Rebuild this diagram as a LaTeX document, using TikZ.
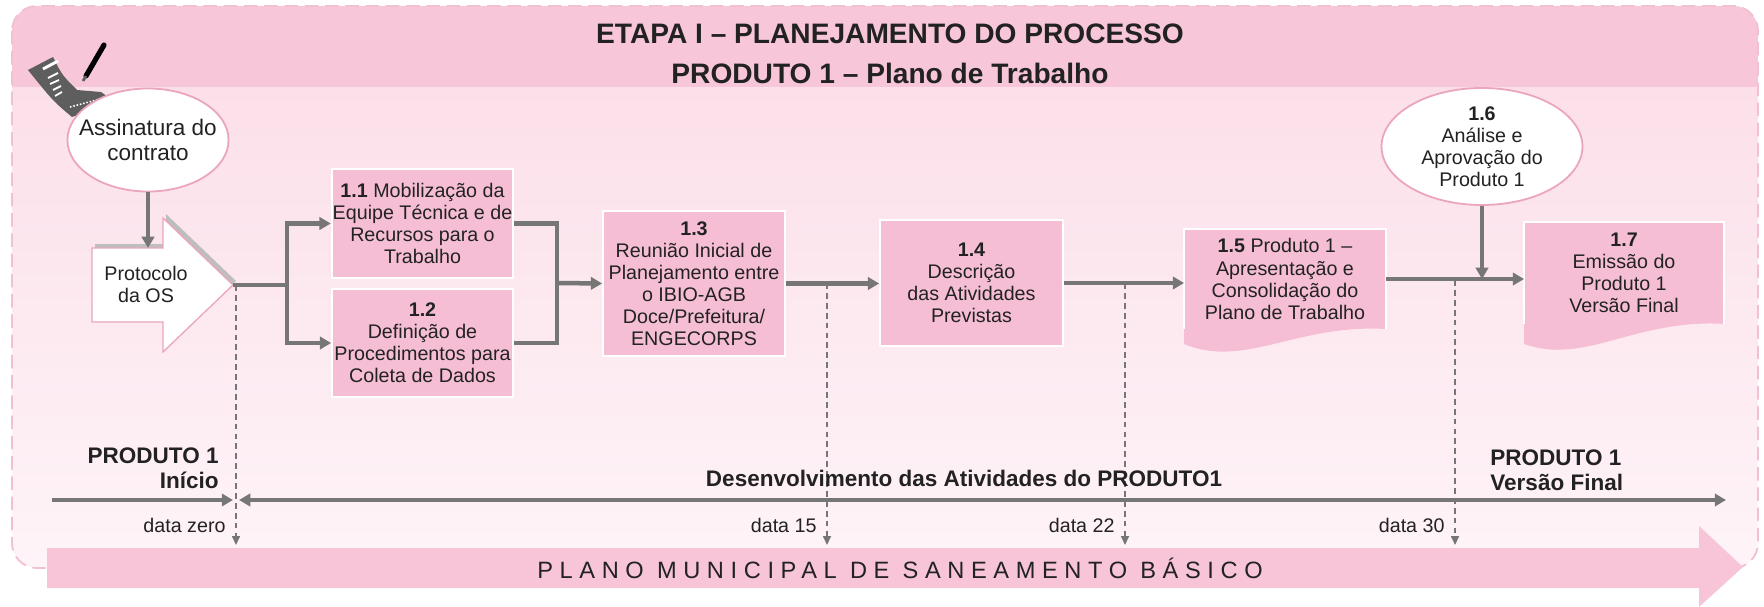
\documentclass[tikz,border=0pt]{standalone}
\usepackage{fontspec}
\setmainfont{Liberation Sans}
\newfontfamily\spacedfont[LetterSpace = 28]{Liberation Sans}
\usetikzlibrary{
    arrows.meta,
    shapes.geometric
}
\definecolor{headpink}{HTML}{F8C6D9}
\definecolor{bodytop}{HTML}{FBDCE7}
\definecolor{bodybottom}{HTML}{FEF4F8}
\definecolor{boxpink}{HTML}{F6BED4}
\definecolor{bandpink}{HTML}{F8C5D8}
\definecolor{rimpink}{HTML}{EBA5BF}
\definecolor{flowgray}{HTML}{767676}
\definecolor{shadowgray}{HTML}{BEBEBE}
\definecolor{docgray}{HTML}{5E5E5E}
\definecolor{inkgray}{HTML}{222222}
\newcommand\boxfont{\fontsize{8.75}{9.8}\selectfont}
\tikzset {
    > = {Triangle[length = 5pt, width = 5.5pt]},
    task/.style = {rectangle, fill = boxpink, draw = white, line width = 0.8pt,
        align = center, inner sep = 0.5pt, font = \boxfont, text = inkgray},
    event/.style = {ellipse, fill = white, draw = rimpink, line width = 0.8pt,
        align = center, inner xsep = -7pt, inner ysep = 0pt, font = \boxfont, text = inkgray},
    flow/.style = {draw = flowgray, line width = 2pt, ->},
    flow line/.style = {draw = flowgray, line width = 2pt},
    date tick/.style = {draw = flowgray, line width = 0.6pt, dash pattern = on 2.6pt off 1.8pt,
        -{Triangle[length = 4pt, width = 3.6pt]}},
    time axis/.style = {draw = flowgray, line width = 1.8pt},
    stamp/.style = {font = \bfseries\fontsize{10}{11}\selectfont, inner sep = 0pt, text = inkgray},
    date/.style = {font = \fontsize{8.75}{10}\selectfont, inner sep = 0pt, anchor = east, text = inkgray},
    heading/.style = {font = \bfseries\fontsize{12.5}{14}\selectfont, inner sep = 0pt, text = inkgray}
}
\begin{document}
\begin{tikzpicture}[x = 0.4444pt, y = -0.4444pt]
    \useasboundingbox (0, 0) rectangle (1764, 607);
    \begin{scope}
        \clip [rounded corners = 11pt] (12, 6) rectangle (1758, 568);
        \shade [top color = bodytop, bottom color = bodybottom] (12, 6) rectangle (1758, 568);
        \fill [headpink] (12, 6) rectangle (1758, 87);
    \end{scope}
    \draw [rimpink!70, line width = 0.8pt, dash pattern = on 6pt off 3pt, rounded corners = 11pt]
        (12, 6) rectangle (1758, 568);
    \node (title) [heading] at (890, 34) {ETAPA I – PLANEJAMENTO DO PROCESSO};
    \node (subtitle) [heading] at (890, 73) {PRODUTO 1 – Plano de Trabalho};

    \fill [docgray] (28, 70) -- (53, 57) .. controls (62, 75) .. (77, 90) -- (101, 92) -- (115, 102)
        -- (72, 117) .. controls (53, 101) .. (28, 70);
    \draw [white, line width = 1.3pt] (43, 69) -- (58, 61);
    \draw [white, line width = 0.8pt] (48, 78) -- (58, 73) (50, 84) -- (59, 80) (53, 90) -- (61, 86)
        (55, 96) -- (62, 92);
    \draw [white, line width = 0.7pt, dash pattern = on 0.7pt off 0.8pt] (70, 107) -- (104, 98);
    \draw [black, line width = 2.3pt, line cap = round] (86, 76) -- (104, 45);
    \draw [docgray, line width = 1.2pt] (83, 81) -- (86, 76);

    \node (sign) [event, minimum width = 71.6pt, minimum height = 45.8pt,
        font = \fontsize{10}{11}\selectfont] at (148, 140) {Assinatura do\\contrato};

    \fill [shadowgray] (95, 244) -- (166, 244) -- (166, 214) -- (236, 281) -- (166, 348)
        -- (166, 318) -- (95, 318) -- cycle;
    \filldraw [fill = white, draw = rimpink, line width = 0.6pt] (92, 248) -- (163, 248) -- (163, 218)
        -- (233, 285) -- (163, 352) -- (163, 322) -- (92, 322) -- cycle;
    \node (os) [font = \boxfont, align = center, text = inkgray] at (146, 284) {Protocolo\\da OS};
    \coordinate (ostop) at (148, 248);
    \coordinate (ostip) at (233, 285);
    \coordinate (fork) at (287, 285);
    \coordinate (join) at (557, 283);
    \coordinate (floor) at (0, 545);

    \node (p11) [task, minimum width = 80.4pt, minimum height = 48.4pt] at (422.5, 223.5)
        {\textbf{1.1} Mobilização da\\Equipe Técnica e de\\Recursos para o\\Trabalho};
    \node (p12) [task, minimum width = 80.4pt, minimum height = 48pt] at (422.5, 343)
        {\textbf{1.2}\\Definição de\\Procedimentos para\\Coleta de Dados};
    \node (p13) [task, minimum width = 80.9pt, minimum height = 64.4pt] at (694, 283.5)
        {\textbf{1.3}\\Reunião Inicial de\\Planejamento entre\\o IBIO-AGB\\Doce/Prefeitura/\\ENGECORPS};
    \node (p14) [task, minimum width = 81.3pt, minimum height = 56pt] at (971.5, 283)
        {\textbf{1.4}\\Descrição\\das Atividades\\Previstas};
    \node (p15) [task, draw = none, minimum width = 88.9pt, minimum height = 43.6pt] at (1285, 279)
        {\textbf{1.5} Produto 1 –\\Apresentação e\\Consolidação do\\Plano de Trabalho};
    \fill [boxpink] ([yshift = 0.6pt]p15.south west) -- ([yshift = -6.7pt]p15.south west)
        .. controls +(60, 25) and +(-90, -5) .. (p15.south east) -- ([yshift = 0.6pt]p15.south east) -- cycle;
    \draw [white, line width = 0.8pt] (p15.south west) |- (p15.north east) -- (p15.south east);
    \node (p16) [event, minimum width = 89.3pt, minimum height = 52pt] at (1482, 146.5)
        {\textbf{1.6}\\Análise e\\Aprovação do\\Produto 1};
    \node (p17) [task, draw = none, minimum width = 88pt, minimum height = 44.4pt] at (1624, 273)
        {\textbf{1.7}\\Emissão do\\Produto 1\\Versão Final};
    \fill [boxpink] ([yshift = 0.6pt]p17.south west) -- ([yshift = -8.9pt]p17.south west)
        .. controls +(60, 22) and +(-90, -5) .. (p17.south east) -- ([yshift = 0.6pt]p17.south east) -- cycle;
    \draw [white, line width = 0.8pt] (p17.south west) |- (p17.north east) -- (p17.south east);

    \coordinate (t0) at (236, 285);
    \coordinate (t15) at (827, 283);
    \coordinate (t22) at (1125, 283);
    \coordinate (t30) at (1455, 280);
    \draw [date tick] (t0) -- (t0 |- floor);
    \draw [date tick] (t15) -- (t15 |- floor);
    \draw [date tick] (t22) -- (t22 |- floor);
    \draw [date tick] (t30) -- (t30 |- floor);
    \node (d0) [date] at (226, 525) {data zero};
    \node (d15) [date] at (817, 525) {data 15};
    \node (d22) [date] at (1115, 525) {data 22};
    \node (d30) [date] at (1445, 525) {data 30};

    \draw [flow] (sign.south) -- (ostop);
    \draw [flow line] (ostip) -- (fork);
    \draw [flow] (fork) |- (p11.west);
    \draw [flow] (fork) |- (p12.west);
    \draw [flow line] (p11.east) -| (join) |- (p12.east);
    \draw [flow] (join) -- (p13.west);
    \draw [flow] (p13.east) -- (p13.east -| p14.west);
    \draw [flow] (p14.east) -- (p14.east -| p15.west);
    \draw [flow] (p15.east) -- (p15.east -| p17.west);
    \draw [flow] (p16.south) -- (p16.south |- p15.east);

    \coordinate (a0) at (52, 500);
    \coordinate (a1) at (233, 500);
    \coordinate (a2) at (239, 500);
    \coordinate (a3) at (1726, 500);
    \draw [time axis, ->] (a0) -- (a1);
    \draw [time axis, <->] (a2) -- (a3);
    \node (start) [stamp, anchor = east, align = right] at (219, 468) {PRODUTO 1\\Início};
    \node (span) [stamp] at (964, 478) {Desenvolvimento das Atividades do PRODUTO1};
    \node (final) [stamp, anchor = west, align = left] at (1490, 470) {PRODUTO 1\\Versão Final};

    \fill [bandpink] (47, 548) -- (1699, 548) -- (1699, 526) -- (1743, 567) -- (1699, 607)
        -- (1699, 588) -- (47, 588) -- cycle;
    \node (plan) [font = {\fontsize{10.5}{12}\spacedfont}, text = inkgray] at (900, 568)
        {PLANO MUNICIPAL DE SANEAMENTO BÁSICO};
\end{tikzpicture}
\end{document}
